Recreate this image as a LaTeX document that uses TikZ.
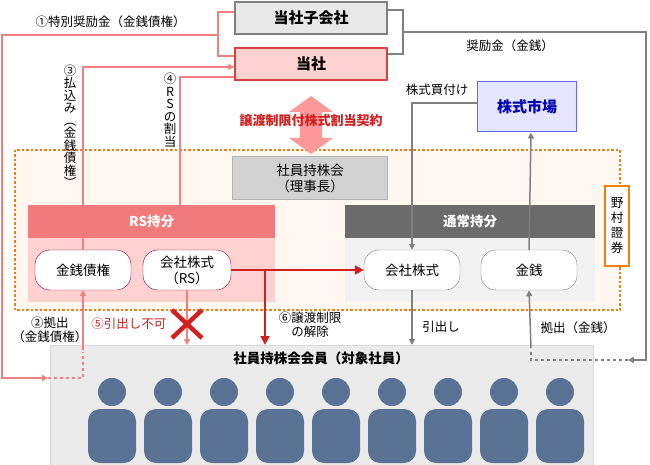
\documentclass[tikz,border=0pt]{standalone}
\usepackage{fontspec}
\setmainfont{Noto Sans CJK JP}
\usetikzlibrary{arrows.meta}
\definecolor{rl}{HTML}{F08080}
\definecolor{rd}{HTML}{D02020}
\definecolor{gy}{HTML}{808080}
\definecolor{person}{HTML}{5A7394}
\begin{document}
\begin{tikzpicture}[x=1pt,y=-1pt,
 t/.style={font=\fontsize{12.5}{14}\selectfont},
 vt/.style={font=\fontsize{12.5}{12.5}\selectfont,align=center,inner sep=0},
 pill/.style={draw,rounded corners=15pt,fill=white,minimum width=96pt,minimum height=40pt,align=center,font=\fontsize{13.5}{16}\selectfont},
 rl/.style={draw=rl,line width=1.5pt},
 gl/.style={draw=gy,line width=1.5pt},
 ar/.style={-{Triangle[length=6pt,width=6pt]}}]
\useasboundingbox (0,0) rectangle (650,465);
% top boxes
\node[draw=gy,line width=1.5pt,fill=gray!18,minimum width=152pt,minimum height=32pt,font=\bfseries\fontsize{15}{17}\selectfont] (sub) at (311,18) {当社子会社};
\node[draw=rd!85,line width=1.5pt,fill=red!18,minimum width=152pt,minimum height=32pt,font=\bfseries\fontsize{15}{17}\selectfont] (co) at (311,64) {当社};
\node[draw=blue!60,line width=1pt,fill=blue!10,minimum width=99pt,minimum height=50pt,text=blue!70!black,font=\bfseries\fontsize{15}{17}\selectfont] (mkt) at (527,107) {株式市場};
% dotted area
\draw[orange!70!brown,line width=2.5pt,dotted,fill=orange!6] (15,150) rectangle (620,310);
\node[draw=gray!60,fill=gray!35,minimum width=155pt,minimum height=43pt,align=center,font=\fontsize{13.5}{16}\selectfont] (kai) at (310,178) {社員持株会\\（理事長）};
\node[draw=orange!80!brown,line width=1.5pt,fill=white,minimum width=24pt,minimum height=80pt,align=center,font=\fontsize{12.5}{15}\selectfont] (nom) at (617,226) {野\\村\\證\\券};
% sections
\fill[red!18] (28,238) rectangle (275,302);
\node[fill=rl!95!red,text=white,minimum width=247pt,minimum height=33pt,font=\bfseries\fontsize{13.5}{16}\selectfont,anchor=north west,inner sep=0] (rs) at (28,205) {RS持分};
\fill[gray!10] (345,238) rectangle (595,302);
\node[fill=black!58,text=white,minimum width=250pt,minimum height=33pt,font=\bfseries\fontsize{13.5}{16}\selectfont,anchor=north west,inner sep=0] (nm) at (345,205) {通常持分};
\node[pill,draw=purple!70!black] (kin) at (83,270) {金銭債権};
\node[pill,draw=purple!70!black,minimum width=88pt] (rsk) at (187,270) {会社株式\\（RS）};
\node[pill,draw=gy] (kk) at (412,270) {会社株式};
\node[pill,draw=gy] (mon) at (529,270) {金銭};
% members
\node[fill=gray!16,draw=gray!30,minimum width=543pt,minimum height=120pt,anchor=north west,inner sep=0] (mem) at (50,345) {};
\node[font=\bfseries\fontsize{13.5}{16}\selectfont] at (321,358) {社員持株会会員（対象社員）};
\foreach \i in {0,...,8}{
 \fill[person] (112+56*\i,392) circle (14);
 \fill[person,rounded corners=12pt] (88+56*\i,463) -- (88+56*\i,409) -- (136+56*\i,409) -- (136+56*\i,463) -- cycle;
}
% double arrow
\fill[red!40] (311,96) -- (333,112) -- (322,112) -- (322,138) -- (333,138) -- (311,154) -- (289,138) -- (300,138) -- (300,112) -- (289,112) -- cycle;
\node[text=rd,font=\bfseries\fontsize{13}{15}\selectfont] at (311,121) {譲渡制限付株式割当契約};
% red lines
\draw[rl] (sub.west|-0,12) -- (218,12) -- (218,56) -- (co.west|-0,56);
\coordinate (c1) at (218,35);
\draw[rl,ar] (c1) -- (2,35) -- (2,378) -- (48,378);
\draw[rl,dashed] (48,378) -- (83,378) -- (83,352);
\draw[rl,ar] (83,350) -- (kin.south);
\node[t,anchor=west] at (32,22) {①特別奨励金（金銭債権）};
\draw[rl,ar] (rs.north-|83,0) -- (83,67) -- (co.west|-0,67);
\draw[rl] (rs.north-|180,0) -- (180,77) -- (co.west|-0,77);
\draw[rl] (83,238) -- (kin.north);
\node[vt] at (70,126) {③\\払\\込\\み\\︵\\金\\銭\\債\\権\\︶};
\node[vt] at (170,110) {④\\R\\S\\の\\割\\当};
\draw[rl,ar] (rsk.south) -- (187,345);
\draw[rd,line width=4.5pt] (172,310) -- (202,338) (202,310) -- (172,338);
\node[text=rd,t,anchor=east] at (170,324) {⑤引出し不可};
\node[t,align=center] at (50,330) {②拠出\\（金銭債権）};
% red main arrow
\draw[rd,line width=2pt,-{Triangle[length=9pt,width=9pt]}] (rsk.east) -- (kk.west);
\draw[rd,line width=2pt,-{Triangle[length=9pt,width=9pt]}] (265,270) -- (265,345);
\node[t,align=center] at (310,325) {⑥譲渡制限\\の解除};
% gray lines
\draw[gl] (sub.east|-0,10) -- (403,10) -- (403,54) -- (co.east|-0,54);
\draw[gl,ar] (403,32) -- (646,32) -- (646,360) -- (628,360);
\draw[gl,dashed] (628,360) -- (531,360) -- (531,352);
\draw[gl,ar] (531,348) -- (mon.south);
\node[t] at (510,46) {奨励金（金銭）};
\draw[gl,ar] (mkt.west|-0,103) -- (412,103) -- (kk.north);
\node[t] at (437,90) {株式買付け};
\draw[gl,ar] (mon.north) -- (mkt.south-|531,0);
\draw[gl,ar] (kk.south) -- (412,345);
\node[t] at (441,327) {引出し};
\node[t] at (578,328) {拠出（金銭）};
\end{tikzpicture}
\end{document}
